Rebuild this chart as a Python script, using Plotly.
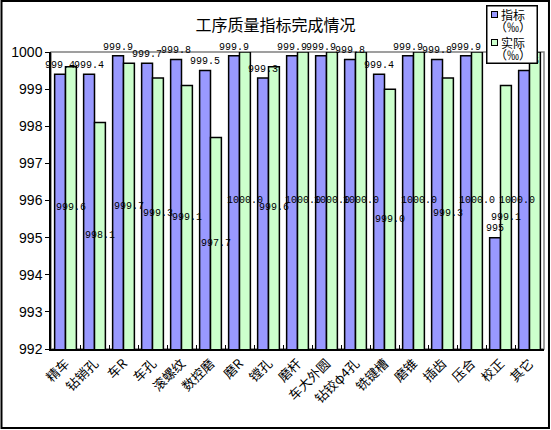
import plotly.graph_objects as go

categories = ["精车", "钻销孔", "车R", "车孔", "滚螺纹", "数控磨", "磨R", "镗孔", "磨杆",
              "车大外圆", "钻铰φ4孔", "铣键槽", "磨锥", "插齿", "压合", "校正", "其它"]
target = [999.4, 999.4, 999.9, 999.7, 999.8, 999.5, 999.9, 999.3, 999.9,
          999.9, 999.8, 999.4, 999.9, 999.8, 999.9, 995.0, 999.5]
actual = [999.6, 998.1, 999.7, 999.3, 999.1, 997.7, 1000.0, 999.6, 1000.0,
          1000.0, 1000.0, 999.0, 1000.0, 999.3, 1000.0, 999.1, 1000.0]
y_ticks = [992, 993, 994, 995, 996, 997, 998, 999, 1000]
y_min = 992
series_names = ["指标", "实际"]
colors = ["#9999FF", "#CCFFCC"]

def fmt(v):
    # excel shows whole numbers without decimals
    return str(int(v)) if v == int(v) and v < 1000 else f"{v:.1f}"

bargap = 0.25
half = (1 - bargap) / 4  # centre offset of each bar in a group
lift = 0.1               # small gap between bar top and its label
idx = list(range(len(categories)))
label_font = dict(family="Liberation Mono, monospace", size=10, color="black")

fig = go.Figure()
for name, vals, col in zip(series_names, [target, actual], colors):
    fig.add_trace(go.Bar(
        x=categories, y=vals, name=name, showlegend=False,
        marker=dict(color=col, line=dict(color="black", width=1.5)),
    ))

# data labels drawn on top of all bars (on a hidden numeric x axis)
fig.add_trace(go.Scatter(
    x=[i - half for i in idx], y=[v + lift for v in target], xaxis="x2",
    mode="text", text=[fmt(v) for v in target], textposition="top center",
    textfont=label_font, cliponaxis=False, showlegend=False, hoverinfo="skip",
))
# last label is pulled left so it stays inside the chart, like excel does
fig.add_trace(go.Scatter(
    x=[i + half for i in idx], y=[(y_min + v) / 2 for v in actual], xaxis="x2",
    mode="text", text=[f"{v:.1f}" for v in actual],
    textposition=["middle center"] * (len(idx) - 1) + ["middle left"],
    textfont=label_font, cliponaxis=False, showlegend=False, hoverinfo="skip",
))

shapes = [
    dict(type="rect", xref="paper", yref="paper", x0=0, x1=1, y0=0, y1=1,
         line=dict(color="#808080", width=1.5), layer="below"),
    dict(type="rect", xref="paper", yref="paper", x0=-0.1004, x1=1.0101,
         y0=-0.266, y1=1.1717, line=dict(color="black", width=2)),
]

# hand-made legend from annotations, so it sits on top of the data labels
legend_font = dict(family="Noto Sans CJK SC", size=12, color="black")
annotations = [dict(xref="paper", yref="paper", x=0.9361, y=1.0606, text=" ",
                    width=49, height=56, bgcolor="white", bordercolor="black",
                    borderwidth=1.5, borderpad=0, showarrow=False,
                    xanchor="center", yanchor="middle")]
for k, (name, col) in enumerate(zip(series_names, colors)):
    dy = k * 0.0943
    annotations.append(dict(xref="paper", yref="paper", x=0.8996, y=1.1263 - dy,
                            text=" ", width=5, height=5, bgcolor=col,
                            bordercolor="black", borderwidth=1, borderpad=0,
                            showarrow=False, xanchor="center", yanchor="middle",
                            font=dict(size=4)))
    annotations.append(dict(xref="paper", yref="paper", x=0.9371, y=1.1279 - dy,
                            text=name, showarrow=False, xanchor="center",
                            yanchor="middle", font=legend_font))
    annotations.append(dict(xref="paper", yref="paper", x=0.9371, y=1.0875 - dy,
                            text="（‰）", showarrow=False, xanchor="center",
                            yanchor="middle", font=legend_font))

fig.update_layout(
    width=551, height=430,
    margin=dict(l=51, r=7, t=52, b=81, autoexpand=False),
    paper_bgcolor="white", plot_bgcolor="white",
    barmode="group", bargap=bargap, bargroupgap=0,
    title=dict(text="工序质量指标完成情况", x=0.5, xanchor="center", y=0.94,
               yanchor="middle",
               font=dict(family="Noto Sans CJK SC", size=16, color="black")),
    font=dict(family="Noto Sans CJK SC", size=12, color="black"),
    xaxis=dict(tickangle=-45, showline=True, linecolor="black", linewidth=1.5,
               ticks="inside", tickson="boundaries", ticklen=4, tickcolor="black",
               automargin=False,
               tickfont=dict(family="Noto Sans CJK SC", size=13)),
    xaxis2=dict(overlaying="x", range=[-0.5, len(categories) - 0.5], visible=False),
    yaxis=dict(range=[y_min, 1000], tickvals=y_ticks, showgrid=False,
               showline=True, linecolor="black", linewidth=1.5,
               ticks="outside", ticklen=4, tickcolor="black", automargin=False,
               tickfont=dict(family="Liberation Sans", size=14)),
    shapes=shapes,
    annotations=annotations,
)

# drop the browser's default page margin so the chart sits at the top-left
fig.write_html("out.html", config={"displayModeBar": False},
               post_script="document.body.style.margin='0px';")
